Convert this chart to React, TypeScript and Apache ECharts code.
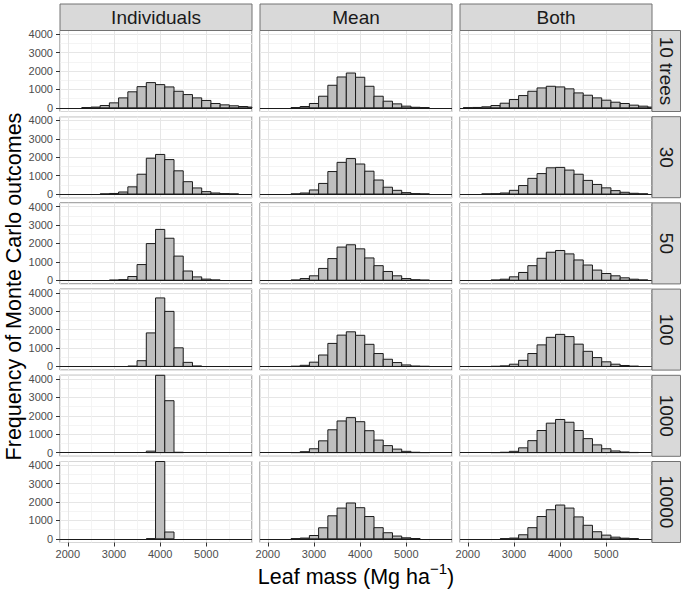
import React, { useEffect, useRef } from 'react';
import * as echarts from 'echarts';

// ---------- data ----------
const COLUMNS = ['Individuals', 'Mean', 'Both'];
const ROWS = ['10 trees', '30', '50', '100', '1000', '10000'];
const BINS = [2000, 2200, 2400, 2600, 2800, 3000, 3200, 3400, 3600, 3800, 4000, 4200, 4400, 4600, 4800, 5000, 5200, 5400, 5600, 5800, 6000];
const BIN_WIDTH = 200;
const X_TICKS = [2000, 3000, 4000, 5000];
const Y_TICKS = [0, 1000, 2000, 3000, 4000];
const X_TITLE_MAIN = 'Leaf mass (Mg ha';
const X_TITLE_SUP = '\u22121';
const X_TITLE_END = ')';
const Y_TITLE = 'Frequency of Monte Carlo outcomes';

const IND_10 = [0, 0, 10, 40, 125, 270, 540, 870, 1150, 1370, 1260, 1135, 900, 720, 540, 400, 235, 160, 110, 70, 40];
const IND_30 = [0, 0, 0, 0, 5, 30, 110, 390, 1075, 1945, 2150, 1870, 1260, 670, 330, 130, 55, 20, 5, 0, 0];
const IND_50 = [0, 0, 0, 0, 0, 5, 30, 200, 850, 1990, 2760, 2280, 1310, 500, 180, 60, 15, 0, 0, 0, 0];
const IND_100 = [0, 0, 0, 0, 0, 0, 0, 20, 310, 1820, 3720, 2990, 1010, 220, 25, 0, 0, 0, 0, 0, 0];
const IND_1000 = [0, 0, 0, 0, 0, 0, 0, 0, 0, 80, 7080, 2820, 20, 0, 0, 0, 0, 0, 0, 0, 0];
const IND_10000 = [0, 0, 0, 0, 0, 0, 0, 0, 0, 5, 9600, 370, 0, 0, 0, 0, 0, 0, 0, 0, 0];

const MEAN_10 = [0, 0, 0, 10, 70, 235, 630, 1225, 1675, 1890, 1660, 1170, 630, 360, 215, 90, 30, 10, 0, 0, 0];
const MEAN_30 = [0, 0, 0, 5, 55, 220, 575, 1220, 1720, 1925, 1630, 1240, 760, 370, 200, 75, 20, 5, 0, 0, 0];
const MEAN_50 = [0, 0, 0, 10, 90, 240, 640, 1175, 1800, 1925, 1705, 1210, 790, 475, 240, 90, 25, 5, 0, 0, 0];
const MEAN_100 = [0, 0, 0, 10, 60, 230, 620, 1250, 1700, 1880, 1690, 1200, 700, 390, 210, 80, 20, 5, 0, 0, 0];
const MEAN_1000 = [0, 0, 0, 5, 50, 210, 640, 1240, 1720, 1900, 1680, 1190, 680, 380, 190, 70, 20, 5, 0, 0, 0];
const MEAN_10000 = [0, 0, 0, 5, 40, 180, 600, 1250, 1670, 1945, 1690, 1210, 605, 330, 150, 55, 15, 0, 0, 0, 0];

const BOTH_10 = [5, 20, 55, 125, 250, 450, 665, 900, 1080, 1170, 1135, 1030, 810, 685, 540, 415, 305, 235, 145, 90, 40];
const BOTH_30 = [0, 0, 5, 15, 55, 200, 460, 850, 1110, 1425, 1445, 1300, 1075, 740, 520, 335, 185, 95, 40, 10, 0];
const BOTH_50 = [0, 0, 0, 10, 55, 185, 420, 790, 1190, 1520, 1615, 1430, 1100, 825, 550, 365, 240, 130, 55, 15, 0];
const BOTH_100 = [0, 0, 0, 5, 30, 120, 330, 700, 1170, 1580, 1740, 1620, 1210, 820, 480, 250, 120, 50, 15, 0, 0];
const BOTH_1000 = [0, 0, 0, 5, 20, 70, 260, 650, 1200, 1600, 1800, 1650, 1200, 760, 420, 210, 90, 35, 10, 0, 0];
const BOTH_10000 = [0, 0, 0, 0, 5, 40, 220, 605, 1210, 1580, 1835, 1670, 1190, 735, 385, 200, 90, 35, 10, 0, 0];

const PANEL_COUNTS = [
  [IND_10, MEAN_10, BOTH_10],
  [IND_30, MEAN_30, BOTH_30],
  [IND_50, MEAN_50, BOTH_50],
  [IND_100, MEAN_100, BOTH_100],
  [IND_1000, MEAN_1000, BOTH_1000],
  [IND_10000, MEAN_10000, BOTH_10000],
];

// ---------- layout / style ----------
const X_MIN = 1830;
const X_MAX = 5990;
const Y_MIN = -200;
const Y_MAX = 4200;

const COL_LEFT = [60, 260, 460];
const PANEL_W = 192;
const ROW_TOP0 = 30.5;
const ROW_STEP = 86.2;
const PANEL_H = 81;
const STRIP_TOP = 4;
const STRIP_RIGHT_W = 28.5;

const FONT = "'Liberation Sans', Arial, Helvetica, sans-serif";
const BORDER = '#727272';
const STRIP_FILL = '#d9d9d9';
const GRID_MAJOR = '#e6e6e6';
const GRID_MINOR = '#f1f1f1';
const BAR_FILL = '#bfbfbf';
const BAR_STROKE = '#1a1a1a';
const TICK_TEXT = '#4d4d4d';

const plain = (v: number) => String(v);

export default function App() {
  const ref = useRef<HTMLDivElement>(null);

  useEffect(() => {
    if (!ref.current) return;
    const chart = echarts.init(ref.current, undefined, { renderer: 'svg' });

    const grids: any[] = [];
    const xMinor: any[] = [];
    const xMajor: any[] = [];
    const yMinor: any[] = [];
    const yMajor: any[] = [];
    const series: any[] = [];
    const nPanels = ROWS.length * COLUMNS.length;

    ROWS.forEach((_, r) => {
      COLUMNS.forEach((__, c) => {
        const i = r * COLUMNS.length + c;
        grids.push({
          left: COL_LEFT[c],
          top: ROW_TOP0 + r * ROW_STEP,
          width: PANEL_W,
          height: PANEL_H,
          show: true,
          backgroundColor: '#ffffff',
          borderColor: BORDER,
          borderWidth: 1,
          containLabel: false,
        });
        xMinor.push({
          gridIndex: i, type: 'value', position: 'bottom', min: X_MIN, max: X_MAX, splitNumber: 8,
          axisLine: { show: false }, axisTick: { show: false }, axisLabel: { show: false },
          splitLine: { show: true, lineStyle: { color: GRID_MINOR, width: 0.8 } },
        });
        xMajor.push({
          gridIndex: i, type: 'value', position: 'bottom', min: X_MIN, max: X_MAX, splitNumber: 4,
          axisLine: { show: false, onZero: false },
          axisTick: { show: r === ROWS.length - 1, length: 4, lineStyle: { color: '#333333', width: 1 }, customValues: X_TICKS },
          axisLabel: {
            show: r === ROWS.length - 1, customValues: X_TICKS, margin: 6, formatter: plain,
            fontSize: 11, color: TICK_TEXT, fontFamily: FONT,
          },
          splitLine: { show: true, lineStyle: { color: GRID_MAJOR, width: 1 } },
        });
        yMinor.push({
          gridIndex: i, type: 'value', position: 'left', min: Y_MIN, max: Y_MAX, splitNumber: 8,
          axisLine: { show: false }, axisTick: { show: false }, axisLabel: { show: false },
          splitLine: { show: true, lineStyle: { color: GRID_MINOR, width: 0.8 } },
        });
        yMajor.push({
          gridIndex: i, type: 'value', position: 'left', min: Y_MIN, max: Y_MAX, splitNumber: 4,
          axisLine: { show: false, onZero: false },
          axisTick: { show: c === 0, length: 4, lineStyle: { color: '#333333', width: 1 }, customValues: Y_TICKS },
          axisLabel: {
            show: c === 0, customValues: Y_TICKS, margin: 7, formatter: plain,
            fontSize: 11, color: TICK_TEXT, fontFamily: FONT,
          },
          splitLine: { show: true, lineStyle: { color: GRID_MAJOR, width: 1 } },
        });
        const counts = PANEL_COUNTS[r][c];
        const data = BINS.map((b, k) => [b, counts[k]]).filter((d) => d[1] > 0);
        series.push({
          type: 'custom',
          xAxisIndex: nPanels + i,
          yAxisIndex: nPanels + i,
          encode: { x: 0, y: 1 },
          data,
          z: 5,
          renderItem: (params: any, api: any) => {
            const x = api.value(0);
            const y = api.value(1);
            const tl = api.coord([x - BIN_WIDTH / 2, y]);
            const br = api.coord([x + BIN_WIDTH / 2, 0]);
            const cs = params.coordSys;
            const shape = echarts.graphic.clipRectByRect(
              { x: tl[0], y: tl[1], width: br[0] - tl[0], height: br[1] - tl[1] },
              { x: cs.x, y: cs.y, width: cs.width, height: cs.height }
            );
            if (!shape) return null;
            return {
              type: 'rect',
              shape,
              style: { fill: BAR_FILL, stroke: BAR_STROKE, lineWidth: 1 },
            };
          },
          markLine: {
            silent: true,
            symbol: ['none', 'none'],
            label: { show: false },
            lineStyle: { color: BAR_STROKE, width: 1.2, type: 'solid' },
            data: [{ yAxis: 0 }],
            z: 6,
          },
        });
      });
    });

    const graphics: any[] = [];
    // top strips
    COLUMNS.forEach((name, c) => {
      graphics.push({
        type: 'rect',
        shape: { x: COL_LEFT[c], y: STRIP_TOP, width: PANEL_W, height: ROW_TOP0 - STRIP_TOP },
        style: { fill: STRIP_FILL, stroke: BORDER, lineWidth: 1 },
        z: 10,
      });
      graphics.push({
        type: 'text',
        x: COL_LEFT[c] + PANEL_W / 2,
        y: (STRIP_TOP + ROW_TOP0) / 2 + 0.5,
        style: { text: name, fontSize: 19, fontFamily: FONT, fill: '#1a1a1a', align: 'center', verticalAlign: 'middle' },
        z: 11,
      });
    });
    // right strips
    const stripX = COL_LEFT[2] + PANEL_W;
    ROWS.forEach((name, r) => {
      const top = ROW_TOP0 + r * ROW_STEP;
      graphics.push({
        type: 'rect',
        shape: { x: stripX, y: top, width: STRIP_RIGHT_W, height: PANEL_H },
        style: { fill: STRIP_FILL, stroke: BORDER, lineWidth: 1 },
        z: 10,
      });
      graphics.push({
        type: 'text',
        x: stripX + STRIP_RIGHT_W / 2 + 0.5,
        y: top + PANEL_H / 2,
        rotation: -Math.PI / 2,
        style: { text: name, fontSize: 19, fontFamily: FONT, fill: '#1a1a1a', align: 'center', verticalAlign: 'middle' },
        z: 11,
      });
    });
    // axis titles
    graphics.push({
      type: 'text',
      x: 14,
      y: ROW_TOP0 + (5 * ROW_STEP + PANEL_H) / 2,
      rotation: Math.PI / 2,
      style: { text: Y_TITLE, fontSize: 21.5, fontFamily: FONT, fill: '#000000', align: 'center', verticalAlign: 'middle' },
      z: 11,
    });
    graphics.push({
      type: 'text',
      x: 356,
      y: 577,
      style: {
        text: `{a|${X_TITLE_MAIN}}{s|${X_TITLE_SUP}}{a|${X_TITLE_END}}`,
        align: 'center',
        verticalAlign: 'middle',
        rich: {
          a: { fontSize: 21.5, fontFamily: FONT, fill: '#000000', lineHeight: 32, verticalAlign: 'middle' },
          s: { fontSize: 15, fontFamily: FONT, fill: '#000000', lineHeight: 15, verticalAlign: 'top' },
        },
      },
      z: 11,
    });

    chart.setOption({
      animation: false,
      backgroundColor: '#ffffff',
      textStyle: { fontFamily: FONT },
      grid: grids,
      xAxis: [...xMinor, ...xMajor],
      yAxis: [...yMinor, ...yMajor],
      series,
      graphic: graphics,
    });

    return () => chart.dispose();
  }, []);

  return (
    <div
      ref={ref}
      style={{ position: 'fixed', left: 0, top: 0, width: 685, height: 593, background: '#fff' }}
    />
  );
}
